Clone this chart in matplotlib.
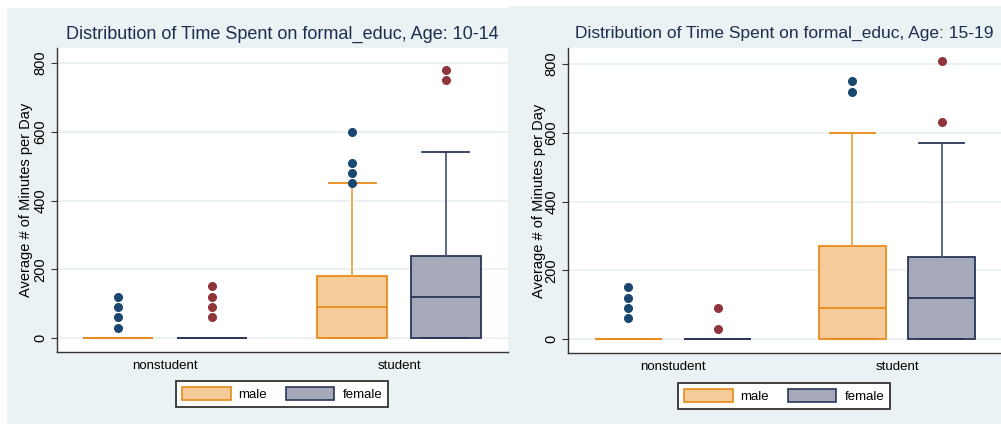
import matplotlib
matplotlib.use("Agg")
import matplotlib.pyplot as plt
from matplotlib.patches import Rectangle, Patch

plt.rcParams['font.family'] = ['Liberation Sans', 'DejaVu Sans']

# ---------------- data ----------------
categories = ["nonstudent", "student"]
sexes = ["male", "female"]
ages = ["10-14", "15-19"]
y_ticks = [0, 200, 400, 600, 800]

# Age 10-14
m1_q1 = [0, 0]
m1_med = [0, 90]
m1_q3 = [0, 180]
m1_hi = [0, 450]
m1_out = [[30, 60, 90, 120], [450, 480, 510, 600]]
f1_q1 = [0, 0]
f1_med = [0, 120]
f1_q3 = [0, 240]
f1_hi = [0, 540]
f1_out = [[60, 90, 120, 150], [750, 780]]

# Age 15-19
m2_q1 = [0, 0]
m2_med = [0, 90]
m2_q3 = [0, 270]
m2_hi = [0, 600]
m2_out = [[60, 90, 120, 150], [720, 750]]
f2_q1 = [0, 0]
f2_med = [0, 120]
f2_q3 = [0, 240]
f2_hi = [0, 570]
f2_out = [[30, 90], [630, 810]]

# ---------------- styles ----------------
BG = "#eaf2f3"
GRID = "#eaf2f3"
M_FILL, M_EDGE, M_WHISK, M_PT = "#f5cb99", "#e88a1a", "#f0a24a", "#1a476f"
F_FILL, F_EDGE, F_WHISK, F_PT = "#a5a9b9", "#2a3558", "#4f5a7a", "#90353b"
TITLE_C = "#1e2d50"

W, H = 1001, 424
fig = plt.figure(figsize=(W / 100, H / 100), dpi=100, facecolor="white")

def fx(px):
    return px / W

def fy(py):
    return 1 - py / H

# panel backgrounds
fig.patches.append(Rectangle((fx(7), 0), fx(508) - fx(7), fy(8), transform=fig.transFigure,
                             facecolor=BG, edgecolor="none", zorder=-10))
fig.patches.append(Rectangle((fx(508), 0), 1 - fx(508), fy(6), transform=fig.transFigure,
                             facecolor=BG, edgecolor="none", zorder=-10))

panels = [
    dict(age=ages[0], ax_px=(57, 48, 508, 352), y0=338, y800=63, gc=(165, 399),
         m=(m1_q1, m1_med, m1_q3, m1_hi, m1_out), f=(f1_q1, f1_med, f1_q3, f1_hi, f1_out),
         leg=(282, 394), ylab_x=33, title_x=282, title_y=34, title_fs=13),
    dict(age=ages[1], ax_px=(568, 48, 1001, 353), y0=339, y800=64, gc=(673, 897),
         m=(m2_q1, m2_med, m2_q3, m2_hi, m2_out), f=(f2_q1, f2_med, f2_q3, f2_hi, f2_out),
         leg=(784, 396), ylab_x=546, title_x=784, title_y=33, title_fs=12.5),
]

def make_stats(d):
    q1, med, q3, hi, out = d
    return [dict(q1=q1[i], med=med[i], q3=q3[i], whislo=q1[i], whishi=hi[i], fliers=out[i])
            for i in range(len(categories))]

for p in panels:
    l, t, r, b = p["ax_px"]
    ax = fig.add_axes([fx(l), fy(b), fx(r) - fx(l), fy(t) - fy(b)])
    ax.set_facecolor("white")
    ppu = (p["y0"] - p["y800"]) / 800.0
    ax.set_ylim(-(b - p["y0"]) / ppu, (p["y0"] - t) / ppu)
    g0, g1 = p["gc"]
    sp = g1 - g0
    ax.set_xlim((l - g0) / sp, (r - g0) / sp)
    off = 0.2
    bw = 0.30
    for s, (data, fill, edge, wc, pc) in enumerate([
            (p["m"], M_FILL, M_EDGE, M_WHISK, M_PT),
            (p["f"], F_FILL, F_EDGE, F_WHISK, F_PT)]):
        pos = [i + (-off if s == 0 else off) for i in range(len(categories))]
        ax.bxp(make_stats(data), positions=pos, widths=bw, capwidths=0.2,
               patch_artist=True, manage_ticks=False,
               boxprops=dict(facecolor=fill, edgecolor=edge, linewidth=1.3),
               medianprops=dict(color=edge, linewidth=1.3),
               whiskerprops=dict(color=wc, linewidth=1.3),
               capprops=dict(color=edge, linewidth=1.3),
               flierprops=dict(marker="o", markerfacecolor=pc, markeredgecolor=pc,
                               markersize=5.5))
    ax.set_yticks(y_ticks)
    ax.set_yticklabels([str(v) for v in y_ticks], rotation=90, va="center", fontsize=10.5)
    ax.set_xticks(range(len(categories)))
    ax.set_xticklabels(categories, fontsize=9.5)
    ax.tick_params(axis="x", length=0, pad=6)
    ax.tick_params(axis="y", length=4, width=0.8, pad=3, color="#333333")
    ax.grid(axis="y", color=GRID, linewidth=1.5, zorder=0)
    ax.set_axisbelow(True)
    for sname in ["top", "right"]:
        ax.spines[sname].set_visible(False)
    for sname in ["left", "bottom"]:
        ax.spines[sname].set_color("#333333")
        ax.spines[sname].set_linewidth(1.0)
    ax.set_ylabel("Average # of Minutes per Day", fontsize=10.5)
    ax.yaxis.set_label_coords((p["ylab_x"] - l) / (r - l), 0.5)
    fig.text(fx(p["title_x"]), fy(p["title_y"]),
             f"Distribution of Time Spent on formal_educ, Age: {p['age']}",
             ha="center", va="center", fontsize=p["title_fs"], color=TITLE_C)
    handles = [Patch(facecolor=M_FILL, edgecolor=M_EDGE, linewidth=1.2, label=sexes[0]),
               Patch(facecolor=F_FILL, edgecolor=F_EDGE, linewidth=1.2, label=sexes[1])]
    lx, ly = p["leg"]
    leg = fig.legend(handles=handles, loc="center", bbox_to_anchor=(fx(lx), fy(ly)),
                     ncol=2, fontsize=9.5, frameon=True, fancybox=False,
                     handlelength=3.7, handleheight=1.15, handletextpad=0.6,
                     columnspacing=1.4, borderpad=0.45, borderaxespad=0)
    fr = leg.get_frame()
    fr.set_edgecolor("#333333")
    fr.set_linewidth(1.3)
    fr.set_facecolor("white")
    fr.set_alpha(1)

fig.savefig("out.png", dpi=100, facecolor="white")
